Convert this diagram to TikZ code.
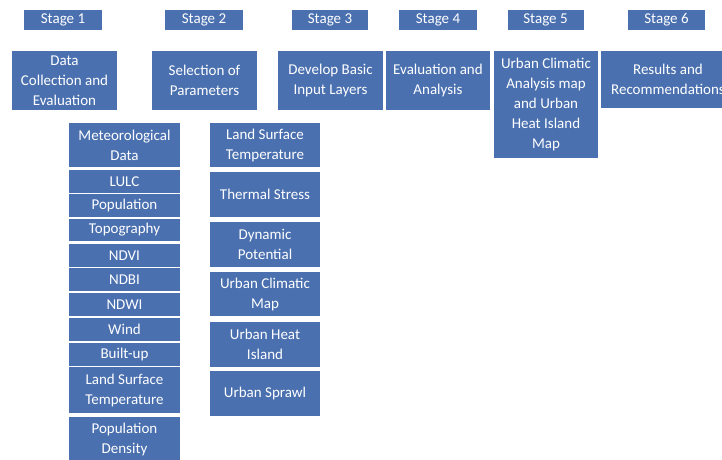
\documentclass[tikz,border=0pt]{standalone}
\usepackage{fontspec}
\setmainfont{Carlito}
\usepackage[]{xcolor}
\definecolor{stageblue}{RGB}{74,112,176}
\tikzset{
  stagebox/.style = {fill=stageblue, text=white, inner sep=0pt, align=center,
    font=\fontsize{15}{20}\selectfont},
}

\begin{document}
\begin{tikzpicture}[x = 1pt, y = -1pt]
\useasboundingbox (0,0) rectangle (722,459);
% stages in the top row
\node [stagebox, minimum width=78, minimum height=20] (stageA) at (63,20) {Stage 1};
\node [stagebox, minimum width=78, minimum height=20] (stageB) at (204,20) {Stage 2};
\node [stagebox, minimum width=76, minimum height=20] (stageC) at (330,20) {Stage 3};
\node [stagebox, minimum width=78, minimum height=20] (stageD) at (438,20) {Stage 4};
\node [stagebox, minimum width=76, minimum height=20] (stageE) at (545.5,20) {Stage 5};
\node [stagebox, minimum width=77, minimum height=20] (stageF) at (666.5,20) {Stage 6};
% what each stage does
\node [stagebox, minimum width=105, minimum height=59] (dataColl) at (64.5,80.5) {Data\\Collection and\\Evaluation};
\node [stagebox, minimum width=105, minimum height=59] (selParam) at (204.5,80.5) {Selection of\\Parameters};
\node [stagebox, minimum width=105, minimum height=59] (devLayer) at (330.5,80.5) {Develop Basic\\Input Layers};
\node [stagebox, minimum width=104, minimum height=59] (evalAna) at (438,80.5) {Evaluation and\\Analysis};
\node [stagebox, minimum width=104, minimum height=107] (ucaMap) at (546,104.5) {Urban Climatic\\Analysis map\\and Urban\\Heat Island\\Map};
\node [stagebox, minimum width=134, minimum height=57] (results) at (668,79.5) {Results and\\Recommendations};
% data collected
\node [stagebox, minimum width=111, minimum height=44] (meteo) at (124.5,145) {Meteorological\\Data};
\node [stagebox, minimum width=111, minimum height=23] (lulc) at (124.5,181.5) {LULC};
\node [stagebox, minimum width=111, minimum height=23] (popu) at (124.5,205.5) {Population};
\node [stagebox, minimum width=111, minimum height=22] (topo) at (124.5,230) {Topography};
\node [stagebox, minimum width=111, minimum height=23] (ndvi) at (124.5,255.5) {NDVI};
\node [stagebox, minimum width=111, minimum height=23] (ndbi) at (124.5,279.5) {NDBI};
\node [stagebox, minimum width=111, minimum height=23] (ndwi) at (124.5,304.5) {NDWI};
\node [stagebox, minimum width=111, minimum height=23] (wind) at (124.5,329.5) {Wind};
\node [stagebox, minimum width=111, minimum height=23] (builtup) at (124.5,354.5) {Built-up};
\node [stagebox, minimum width=111, minimum height=46] (lstData) at (124.5,390) {Land Surface\\Temperature};
\node [stagebox, minimum width=111, minimum height=44] (popDens) at (124.5,439) {Population\\Density};
% parameters selected
\node [stagebox, minimum width=110, minimum height=44] (lstParam) at (265,145) {Land Surface\\Temperature};
\node [stagebox, minimum width=110, minimum height=45] (thermal) at (265,194.5) {Thermal Stress};
\node [stagebox, minimum width=110, minimum height=45] (dynPot) at (265,244.5) {Dynamic\\Potential};
\node [stagebox, minimum width=110, minimum height=44] (ucMap) at (265,294) {Urban Climatic\\Map};
\node [stagebox, minimum width=110, minimum height=45] (uhi) at (265,344.5) {Urban Heat\\Island};
\node [stagebox, minimum width=110, minimum height=45] (sprawl) at (265,393.5) {Urban Sprawl};
\end{tikzpicture}
\end{document}
